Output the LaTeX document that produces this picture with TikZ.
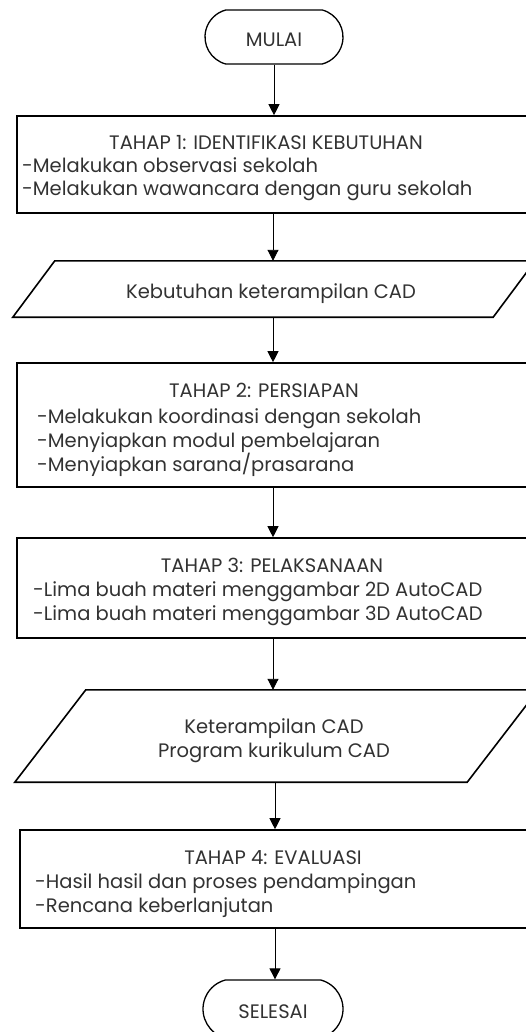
\documentclass[tikz,border=0pt]{standalone}
\usepackage{fontspec}
\setmainfont{Poppins}
\usetikzlibrary{arrows.meta,calc,shapes.misc}
\definecolor{txt}{RGB}{50,50,50}
\begin{document}
\begin{tikzpicture}[x=1pt,y=-1pt,
  box/.style={draw,line width=1.6pt,inner sep=0},
  term/.style={draw,line width=1.3pt,rounded rectangle,rounded rectangle arc length=150,inner sep=0},
  frame/.style={inner sep=0},
  para/.style={draw,line width=1.6pt},
  arr/.style={-{Triangle[width=11pt,length=11pt]},line width=0.9pt},
  t/.style={text=txt,font=\fontsize{19.5}{23}\selectfont,inner sep=0,anchor=base},
  tl/.style={t,anchor=base west}]
\useasboundingbox (0,0) rectangle (526,1032);
\clip (0,0) rectangle (526,1032);

% shapes
\node[term,minimum width=138pt,minimum height=54pt] (start) at (274,37) {};
\node[box,minimum width=512pt,minimum height=97pt] (b1) at (273,164.5) {};
\node[frame,minimum width=522pt,minimum height=56pt] (p1) at (274,289) {};
\draw[para] (p1.south west) -- ([xshift=42pt]p1.north west) -- (p1.north east) -- ([xshift=-42pt]p1.south east) -- cycle;
\node[box,minimum width=512pt,minimum height=124pt] (b2) at (273,425) {};
\node[box,minimum width=512pt,minimum height=100pt] (b3) at (273,588) {};
\node[frame,minimum width=523pt,minimum height=92pt] (p2) at (276.5,736) {};
\draw[para] (p2.south west) -- ([xshift=71pt]p2.north west) -- (p2.north east) -- ([xshift=-71pt]p2.south east) -- cycle;
\node[box,minimum width=510pt,minimum height=98pt] (b4) at (275,879) {};
\node[term,minimum width=140pt,minimum height=58pt] (end) at (273,1009) {};

% texts
\node[t] (tstart) at (274,47) {MULAI};
\node[t] (t1) at (266,150) {TAHAP 1: IDENTIFIKASI KEBUTUHAN};
\node[tl] (t1a) at (22,173) {-Melakukan observasi sekolah};
\node[tl] (t1b) at (22,196) {-Melakukan wawancara dengan guru sekolah};
\node[t] (tp1) at (271,298) {Kebutuhan keterampilan CAD};
\node[t] (t2) at (264,397) {TAHAP 2: PERSIAPAN};
\node[tl] (t2a) at (37,423) {-Melakukan koordinasi dengan sekolah};
\node[tl] (t2b) at (37,447) {-Menyiapkan modul pembelajaran};
\node[tl] (t2c) at (37,471) {-Menyiapkan sarana/prasarana};
\node[t] (t3) at (272,572) {TAHAP 3: PELAKSANAAN};
\node[tl] (t3a) at (33,596) {-Lima buah materi menggambar 2D AutoCAD};
\node[tl] (t3b) at (33,620) {-Lima buah materi menggambar 3D AutoCAD};
\node[t] (tp2a) at (274,733) {Keterampilan CAD};
\node[t] (tp2b) at (274,757) {Program kurikulum CAD};
\node[t] (t4) at (273,864) {TAHAP 4: EVALUASI};
\node[tl] (t4a) at (35,888) {-Hasil hasil dan proses pendampingan};
\node[tl] (t4b) at (35,912) {-Rencana keberlanjutan};
\node[t] (tend) at (273,1018) {SELESAI};

% connectors
\draw[arr] (start.south) -- (start.south |- b1.north);
\draw[arr] (b1.south) -- (b1.south |- p1.north);
\draw[arr] (b1.south |- p1.south) -- (b1.south |- b2.north);
\draw[arr] (b2.south) -- (b2.south |- b3.north);
\draw[arr] (b3.south) -- (b3.south |- p2.north);
\draw[arr] (b4.north |- p2.south) -- (b4.north);
\draw[arr] (b4.south) -- (b4.south |- end.north);
\end{tikzpicture}
\end{document}
